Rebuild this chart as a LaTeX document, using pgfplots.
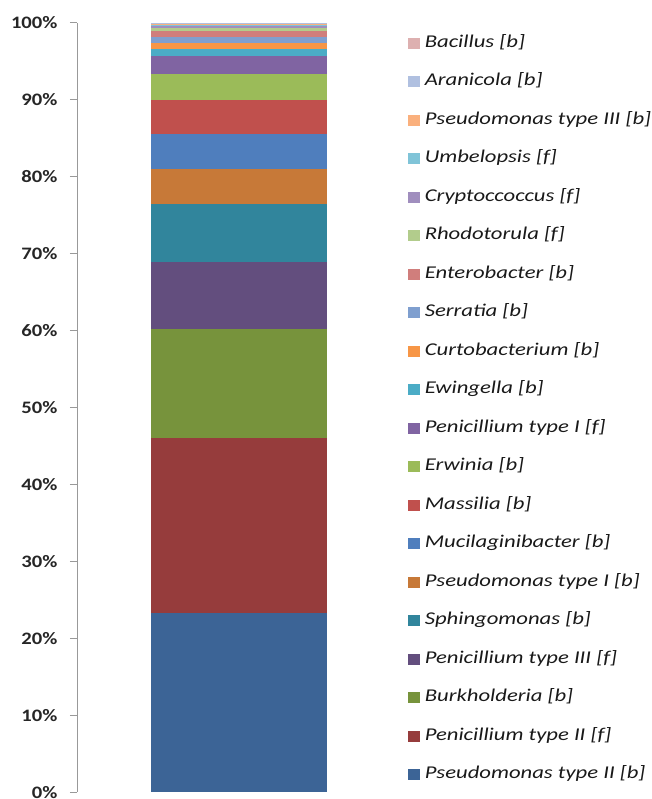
\documentclass[border=0pt]{standalone}
\usepackage{pgfplots}
\pgfplotsset{compat=1.18}
\usepackage{fontspec}
\setmainfont{Carlito}
\newfontfamily\legfont[FakeStretch=1.26]{Carlito}
\newfontfamily\tickfont[FakeStretch=1.18]{Carlito}
\definecolor{c1}{HTML}{3C6496}
\definecolor{c2}{HTML}{963C3C}
\definecolor{c3}{HTML}{77933C}
\definecolor{c4}{HTML}{634E7E}
\definecolor{c5}{HTML}{31859C}
\definecolor{c6}{HTML}{C77938}
\definecolor{c7}{HTML}{4F7EBD}
\definecolor{c8}{HTML}{C0504D}
\definecolor{c9}{HTML}{9BBB59}
\definecolor{c10}{HTML}{8064A2}
\definecolor{c11}{HTML}{4BACC6}
\definecolor{c12}{HTML}{F79646}
\definecolor{c13}{HTML}{7F9FCF}
\definecolor{c14}{HTML}{D07E7C}
\definecolor{c15}{HTML}{B2CC8C}
\definecolor{c16}{HTML}{A08EBE}
\definecolor{c17}{HTML}{80C4D8}
\definecolor{c18}{HTML}{FAB07D}
\definecolor{c19}{HTML}{B0C0E0}
\definecolor{c20}{HTML}{DDB0B0}
\begin{document}
\begin{tikzpicture}[x=1pt,y=1pt]
\useasboundingbox (0,0) rectangle (652,799);
\begin{axis}[
  at={(77pt,6.8pt)}, anchor=south west,
  width=324pt, height=769.5pt, scale only axis,
  xmin=-1, xmax=1, ymin=0, ymax=100,
  axis x line=none, axis y line*=left,
  y axis line style={draw=black!40, line width=0.8pt},
  ytick={0,10,...,100},
  yticklabel={\pgfmathprintnumber{\tick}\%},
  /pgf/number format/assume math mode=true,
  yticklabel style={font=\tickfont\bfseries\fontsize{17.5}{18}\selectfont, text=black!85, xshift=-9pt},
  tick align=outside, major tick length=7pt,
  ytick style={draw=black!40, line width=0.8pt},
  ybar stacked, bar width=176pt,
  reverse legend,
  legend cell align=left,
  legend image code/.code={\fill[#1,draw=none] (0pt,-5.5pt) rectangle (12pt,5.5pt);},
  legend style={draw=none, fill=none, at={(1.0110,0.9868)}, anchor=north west,
    font=\legfont\itshape\fontsize{18}{18}\selectfont, text=black!90,
    nodes={inner sep=0pt, text height=12pt, text depth=4pt},
    row sep=22.5pt, column sep=5pt},
]
\addplot[fill=c1,draw=none] coordinates {(0,23.3)};
\addlegendentry{Pseudomonas type II [b]}
\addplot[fill=c2,draw=none] coordinates {(0,22.7)};
\addlegendentry{Penicillium type II [f]}
\addplot[fill=c3,draw=none] coordinates {(0,14.15)};
\addlegendentry{Burkholderia [b]}
\addplot[fill=c4,draw=none] coordinates {(0,8.7)};
\addlegendentry{Penicillium type III [f]}
\addplot[fill=c5,draw=none] coordinates {(0,7.55)};
\addlegendentry{Sphingomonas [b]}
\addplot[fill=c6,draw=none] coordinates {(0,4.6)};
\addlegendentry{Pseudomonas type I [b]}
\addplot[fill=c7,draw=none] coordinates {(0,4.55)};
\addlegendentry{Mucilaginibacter [b]}
\addplot[fill=c8,draw=none] coordinates {(0,4.4)};
\addlegendentry{Massilia [b]}
\addplot[fill=c9,draw=none] coordinates {(0,3.4)};
\addlegendentry{Erwinia [b]}
\addplot[fill=c10,draw=none] coordinates {(0,2.35)};
\addlegendentry{Penicillium type I [f]}
\addplot[fill=c11,draw=none] coordinates {(0,0.9)};
\addlegendentry{Ewingella [b]}
\addplot[fill=c12,draw=none] coordinates {(0,0.8)};
\addlegendentry{Curtobacterium [b]}
\addplot[fill=c13,draw=none] coordinates {(0,0.7)};
\addlegendentry{Serratia [b]}
\addplot[fill=c14,draw=none] coordinates {(0,0.8)};
\addlegendentry{Enterobacter [b]}
\addplot[fill=c15,draw=none] coordinates {(0,0.45)};
\addlegendentry{Rhodotorula [f]}
\addplot[fill=c16,draw=none] coordinates {(0,0.2)};
\addlegendentry{Cryptoccoccus [f]}
\addplot[fill=c17,draw=none] coordinates {(0,0.15)};
\addlegendentry{Umbelopsis [f]}
\addplot[fill=c18,draw=none] coordinates {(0,0.12)};
\addlegendentry{Pseudomonas type III [b]}
\addplot[fill=c19,draw=none] coordinates {(0,0.12)};
\addlegendentry{Aranicola [b]}
\addplot[fill=c20,draw=none] coordinates {(0,0.06)};
\addlegendentry{Bacillus [b]}
\end{axis}
\end{tikzpicture}
\end{document}
